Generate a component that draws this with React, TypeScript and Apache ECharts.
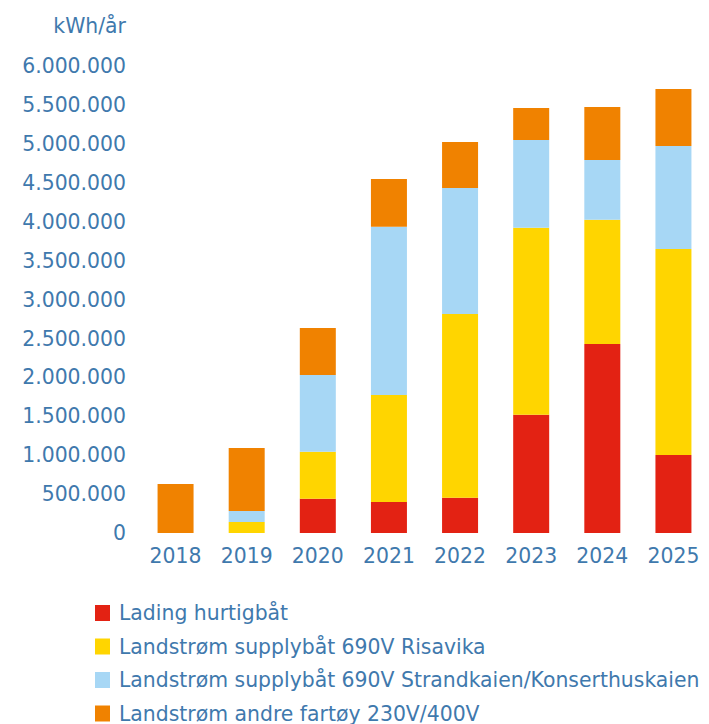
import React, { useEffect, useRef } from "react";
import * as echarts from "echarts";

const years = ["2018", "2019", "2020", "2021", "2022", "2023", "2024", "2025"];
const seriesNames = [
  "Lading hurtigbåt",
  "Landstrøm supplybåt 690V Risavika",
  "Landstrøm supplybåt 690V Strandkaien/Konserthuskaien",
  "Landstrøm andre fartøy 230V/400V",
];
const ladingHurtigbat = [0, 0, 441000, 399000, 454000, 1521000, 2430000, 1003000];
const risavika = [0, 141000, 605000, 1376000, 2362000, 2405000, 1599000, 2649000];
const strandkaien = [0, 142000, 986000, 2164000, 1620000, 1128000, 767000, 1324000];
const andreFartoy = [630000, 810000, 604000, 613000, 592000, 411000, 682000, 733000];
const colors = ["#E32213", "#FFD500", "#A7D7F5", "#F08200"];
const yTicksMax = 6000000;
const yTickStep = 500000;

const textColor = "#3f79ad";
const fontFamily = "DejaVu Sans";
const fontSize = 20.4;

function fmt(v: number): string {
  return String(Math.round(v)).replace(/\B(?=(\d{3})+(?!\d))/g, ".");
}

export default function App() {
  const ref = useRef<HTMLDivElement>(null);
  useEffect(() => {
    if (!ref.current) return;
    const chart = echarts.init(ref.current, undefined, { renderer: "svg" });
    const data = [ladingHurtigbat, risavika, strandkaien, andreFartoy];
    chart.setOption({
      animation: false,
      backgroundColor: "#ffffff",
      textStyle: { fontFamily, color: textColor },
      grid: { left: 140, top: 66.4, height: 466.6, width: 582.4, containLabel: false },
      legend: {
        orient: "vertical",
        left: 90,
        top: 598,
        height: 200,
        itemWidth: 15,
        itemHeight: 16,
        itemGap: 13.5,
        icon: "rect",
        selectedMode: false,
        textStyle: { fontFamily, fontSize, color: textColor, padding: [0, 0, 0, 4] },
        data: seriesNames,
      },
      xAxis: {
        type: "category",
        data: years,
        axisLine: { show: false },
        axisTick: { show: false },
        axisLabel: { fontFamily, fontSize, color: textColor, margin: 13 },
      },
      yAxis: {
        type: "value",
        min: 0,
        max: yTicksMax,
        interval: yTickStep,
        name: "kWh/år",
        nameLocation: "end",
        nameGap: 30,
        nameTextStyle: { fontFamily, fontSize, color: textColor, align: "right", padding: [0, 14, 0, 0] },
        splitLine: { show: false },
        axisLine: { show: false },
        axisTick: { show: false },
        axisLabel: {
          fontFamily,
          fontSize,
          color: textColor,
          margin: 14,
          formatter: (v: number) => fmt(v),
        },
      },
      series: seriesNames.map((name, i) => ({
        name,
        type: "bar",
        stack: "total",
        barWidth: 36,
        itemStyle: { color: colors[i] },
        data: data[i],
      })),
    });
    return () => chart.dispose();
  }, []);
  return <div ref={ref} style={{ width: 709, height: 724, position: "absolute", left: 0, top: 0 }} />;
}
